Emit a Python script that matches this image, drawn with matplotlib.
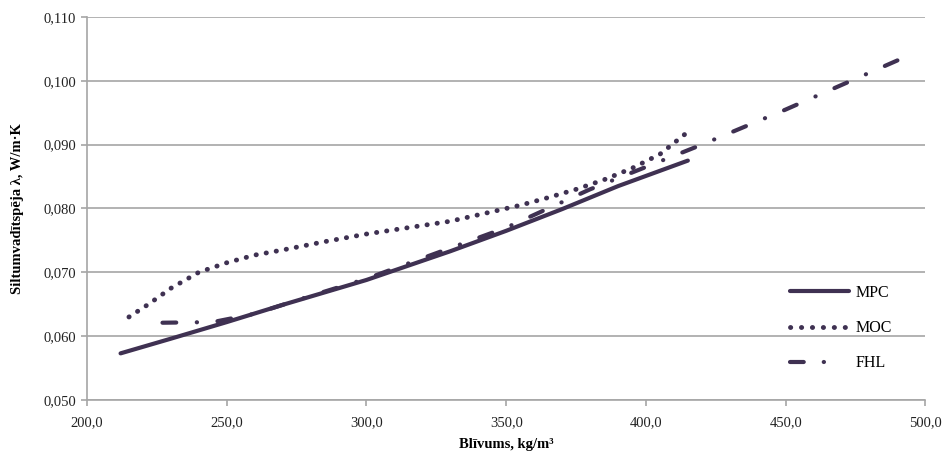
import numpy as np
import matplotlib.pyplot as plt
from matplotlib.lines import Line2D
from matplotlib.ticker import FuncFormatter, MultipleLocator

plt.rcParams['font.family'] = ['Liberation Serif', 'DejaVu Serif']

mpc_x = [212, 230, 250, 270, 300, 330, 350, 370, 390, 415]
mpc_y = [0.0573, 0.0596, 0.0622, 0.0649, 0.0688, 0.0733, 0.0765, 0.0799, 0.0835, 0.0875]

moc_x = [215, 222, 230, 240, 250, 260, 270, 285, 300, 315, 330, 345, 355, 365, 375, 385, 395, 405, 415]
moc_y = [0.0630, 0.0650, 0.0675, 0.0700, 0.0715, 0.0727, 0.0735, 0.0748, 0.0760, 0.0770, 0.0780, 0.0795, 0.0805, 0.0817, 0.0830, 0.0845, 0.0863, 0.0885, 0.0920]

fhl_x = [227, 245, 260, 280, 300, 320, 350, 380, 400, 420, 450, 490]
fhl_y = [0.0621, 0.0622, 0.0635, 0.0663, 0.0690, 0.0722, 0.0770, 0.0830, 0.0865, 0.0900, 0.0955, 0.1032]

col = '#3f3152'
fig = plt.figure(figsize=(9.43, 4.55), dpi=100)
ax = fig.add_axes([0.0923, 0.121, 0.889, 0.8416])
ax.set_xlim(200, 500)
ax.set_ylim(0.05, 0.11)

# fit the dash-dot pattern so the FHL line starts and ends on a dash
lw = 3
dash, dot = 3.3, 0.05
pix = ax.transData.transform(np.column_stack([fhl_x, fhl_y]))
length = np.hypot(*np.diff(pix, axis=0).T).sum() / (lw * fig.dpi / 72)
n = max(1, round((length - dash) / 12.9))
gap = ((length - dash) / n - dash - dot) / 2

ax.plot(mpc_x, mpc_y, color=col, lw=lw, solid_capstyle='round')
ax.plot(moc_x, moc_y, color=col, lw=3.5, dashes=(0.05, 2.05), dash_capstyle='round')
ax.plot(fhl_x, fhl_y, color=col, lw=lw, dashes=(dash, gap, dot, gap), dash_capstyle='round')

ax.xaxis.set_major_locator(MultipleLocator(50))
ax.yaxis.set_major_locator(MultipleLocator(0.01))
ax.xaxis.set_major_formatter(FuncFormatter(lambda v, p: f'{v:.1f}'.replace('.', ',')))
ax.yaxis.set_major_formatter(FuncFormatter(lambda v, p: f'{v:.3f}'.replace('.', ',')))
ax.grid(axis='y', color='#a6a6a6', lw=1.2)
ax.set_axisbelow(True)
for s in ['top', 'right']:
    ax.spines[s].set_visible(False)
for s in ['left', 'bottom']:
    ax.spines[s].set_color('#a6a6a6')
    ax.spines[s].set_linewidth(1.2)
ax.tick_params(axis='both', direction='out', length=4, width=1.2, color='#a6a6a6',
               labelsize=10.5, labelcolor='#222222')
ax.tick_params(axis='x', pad=8)
ax.tick_params(axis='y', pad=4)

ax.set_xlabel('Blīvums, kg/m³', fontsize=10.5, fontweight='bold', labelpad=6)
ax.set_ylabel('Siltumvadītspēja λ, W/m·K', fontsize=10.5, fontweight='bold', labelpad=14)

handles = [
    Line2D([], [], color=col, lw=lw, solid_capstyle='round'),
    Line2D([], [], color=col, lw=3.5, dashes=(0.05, 2.2), dash_capstyle='round'),
    Line2D([], [], color=col, lw=lw, dashes=(dash, 4.8, dot, 30), dash_capstyle='round'),
]
ax.legend(handles, ['MPC', 'MOC', 'FHL'], loc='upper left',
          bbox_to_anchor=(790 / 943, 1 - 285 / 455), bbox_transform=fig.transFigure,
          frameon=False, fontsize=11.5, borderpad=0, borderaxespad=0,
          handlelength=3.7, labelspacing=1.2, handletextpad=0.4)

fig.savefig('out.png', dpi=100)
